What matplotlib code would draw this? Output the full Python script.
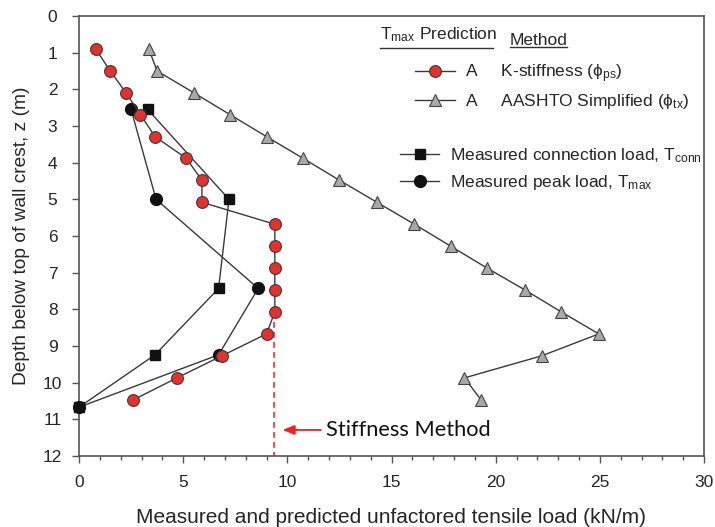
import numpy as np
import matplotlib
matplotlib.use("Agg")
import matplotlib.pyplot as plt
from matplotlib.lines import Line2D
from matplotlib.ticker import MultipleLocator

plt.rcParams['font.family'] = ['Liberation Sans', 'DejaVu Sans']
plt.rcParams['mathtext.fontset'] = 'custom'
plt.rcParams['mathtext.rm'] = 'Liberation Sans'
plt.rcParams['mathtext.it'] = 'Liberation Sans:italic'

# reinforcement layer depths (m) and predicted loads (kN/m)
depth = [0.9, 1.5, 2.09, 2.69, 3.29, 3.88, 4.48, 5.08, 5.68, 6.28, 6.88, 7.47, 8.07, 8.67, 9.27, 9.87, 10.47]
k_stiffness = [0.8, 1.5, 2.25, 2.95, 3.65, 5.15, 5.9, 5.9, 9.4, 9.4, 9.4, 9.4, 9.4, 9.0, 6.85, 4.7, 2.6]
aashto = [3.35, 3.75, 5.5, 7.25, 9.0, 10.75, 12.5, 14.3, 16.1, 17.85, 19.6, 21.4, 23.15, 24.95, 22.2, 18.5, 19.3]

# measured (instrumented layers)
meas_depth = [2.55, 5.0, 7.43, 9.24, 10.67]
t_conn = [3.3, 7.2, 6.7, 3.65, 0.0]
t_max = [2.5, 3.7, 8.6, 6.7, 0.0]

# stiffness method design value line
stiff_x = 9.37
stiff_top, stiff_bottom = 8.35, 12.0
arrow_tip = (9.77, 11.29)
arrow_text_x = 11.88

line_col = '#3a3a3a'
txt_col = '#262626'

fig = plt.figure(figsize=(7.15, 5.27), dpi=100)
ax = fig.add_axes([79/715, 1 - 456/527, 625/715, 440/527])

ax.plot(t_max, meas_depth, color=line_col, lw=1.0, marker='o', ms=8.5,
        mfc='#111111', mec='#111111', clip_on=False, zorder=3)
ax.plot(t_conn, meas_depth, color=line_col, lw=1.0, marker='s', ms=7.5,
        mfc='#111111', mec='#111111', clip_on=False, zorder=3)
ax.plot(aashto, depth, color=line_col, lw=1.0, marker='^', ms=9,
        mfc='#a8a8a8', mec='#444444', mew=0.8, zorder=4)
ax.plot(k_stiffness, depth, color=line_col, lw=1.0, marker='o', ms=8.5,
        mfc='#e8302a', mec='#3a3a3a', mew=0.8, zorder=5)

ax.vlines(stiff_x, stiff_top, stiff_bottom, colors='#ff2a2a', linestyles=(0, (3.5, 2.5)), lw=1.2, zorder=2)
ax.annotate('Stiffness Method', xy=arrow_tip, xytext=(arrow_text_x, arrow_tip[1]),
            ha='left', va='center', fontsize=15.7, family=['Lato', 'DejaVu Sans'], color='#111111',
            arrowprops=dict(arrowstyle='-|>,head_length=0.45,head_width=0.18', color='#ff1a1a',
                            lw=1.3, shrinkA=2, shrinkB=0))

ax.set_xlim(0, 30)
ax.set_ylim(12, 0)
ax.xaxis.set_major_locator(MultipleLocator(5))
ax.xaxis.set_minor_locator(MultipleLocator(1))
ax.yaxis.set_major_locator(MultipleLocator(1))

for s in ax.spines.values():
    s.set_color('#555555')
    s.set_linewidth(1.2)
ax.tick_params(which='major', direction='out', length=5, width=1, color='#555555',
               labelsize=12.5, labelcolor=txt_col)
ax.tick_params(which='minor', direction='out', length=3, width=1, color='#555555')
ax.tick_params(axis='x', which='major', pad=8.5)
ax.tick_params(axis='y', which='major', pad=14)
for lab in ax.get_yticklabels():
    lab.set_ha('center')

ax.set_xlabel('Measured and predicted unfactored tensile load (kN/m)', fontsize=15, color=txt_col)
ax.set_ylabel('Depth below top of wall crest, z (m)', fontsize=13.8, color=txt_col)
ax.xaxis.set_label_coords(0.5, -0.118)
ax.yaxis.set_label_coords(-0.078, 0.5)

# legend: predictions
h_k = Line2D([], [], color=line_col, lw=1.0, marker='o', ms=8.5, mfc='#e8302a', mec='#3a3a3a', mew=0.8)
h_a = Line2D([], [], color=line_col, lw=1.0, marker='^', ms=9, mfc='#a8a8a8', mec='#444444', mew=0.8)
leg1 = ax.legend([h_k, h_a],
                 ['A     K-stiffness (\u03d5$_{\\mathrm{ps}}$)', 'A     AASHTO Simplified (\u03d5$_{\\mathrm{tx}}$)'],
                 loc='center left', bbox_to_anchor=((415-79)/625, 1-(86.7-16)/440),
                 frameon=False, fontsize=12.5, handlelength=2.3, handletextpad=0.58,
                 labelspacing=0.38, borderpad=0, borderaxespad=0, labelcolor=txt_col)
ax.add_artist(leg1)

h_c = Line2D([], [], color=line_col, lw=1.0, marker='s', ms=7.5, mfc='#111111', mec='#111111')
h_m = Line2D([], [], color=line_col, lw=1.0, marker='o', ms=8.5, mfc='#111111', mec='#111111')
ax.legend([h_c, h_m],
          ['Measured connection load, T$_{\\mathrm{conn}}$', 'Measured peak load, T$_{\\mathrm{max}}$'],
          loc='center left', bbox_to_anchor=((400-79)/625, 1-(169-16)/440),
          frameon=False, fontsize=12.5, handlelength=2.25, handletextpad=0.63,
          labelspacing=0.5, borderpad=0, borderaxespad=0, labelcolor=txt_col)

# legend header with underlines
ax.text((380-79)/625, 1-(39.6-16)/440, 'T$_{\\mathrm{max}}$ Prediction', transform=ax.transAxes,
        fontsize=12.5, color=txt_col, va='baseline', ha='left')
ax.text((510-79)/625, 1-(45.3-16)/440, 'Method', transform=ax.transAxes,
        fontsize=12.5, color=txt_col, va='baseline', ha='left')
ax.plot([(380-79)/625, (493-79)/625], [1-(48.4-16)/440]*2, transform=ax.transAxes,
        color='#333333', lw=1.0, clip_on=False)
ax.plot([(510-79)/625, (567-79)/625], [1-(46.6-16)/440]*2, transform=ax.transAxes,
        color='#333333', lw=1.0, clip_on=False)

fig.savefig('out.png', dpi=100)
